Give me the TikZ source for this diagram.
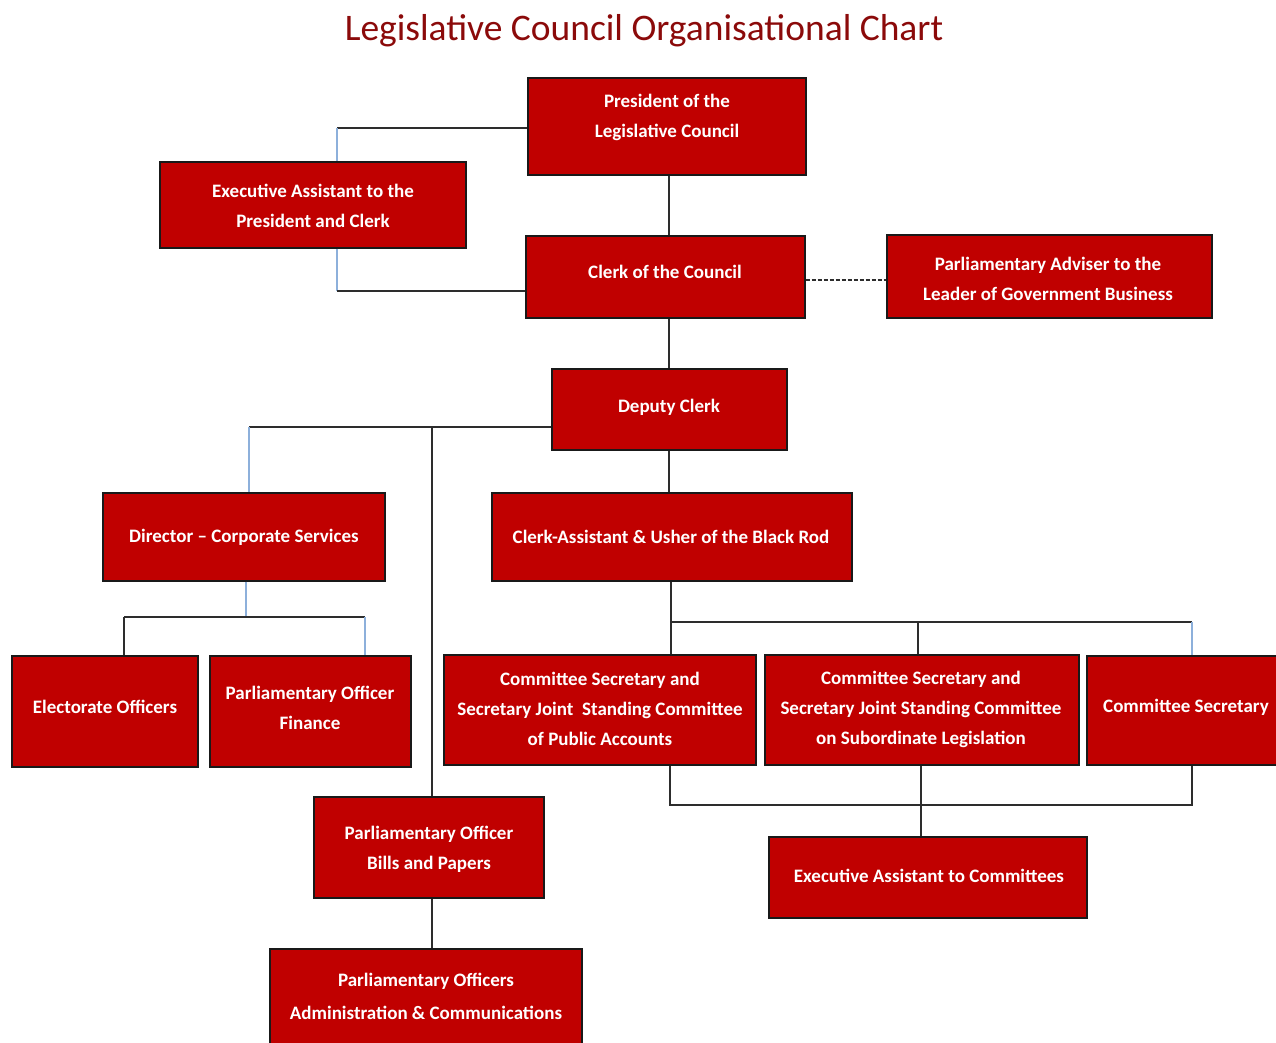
\documentclass[tikz,border=0pt]{standalone}
\usepackage{fontspec}
\setmainfont{Carlito}
\definecolor{boxred}{RGB}{192,0,0}
\definecolor{titlered}{RGB}{139,10,10}
\definecolor{lblue}{RGB}{141,176,219}
\definecolor{conndark}{RGB}{45,45,45}
\begin{document}
\begin{tikzpicture}[x=1bp,y=-1bp,
  box/.style={draw=black!90, line width=1.4bp, fill=boxred, inner sep=0pt, rectangle},
  txt/.style={text=white, font=\bfseries\fontsize{19bp}{30bp}\selectfont, align=center, inner sep=0pt},
  conn/.style={draw=conndark, line width=1.1bp},
  bconn/.style={draw=lblue, line width=1.1bp},
  dconn/.style={draw=conndark, line width=1.1bp, dash pattern=on 4bp off 2bp}]
\useasboundingbox (0,0) rectangle (1276,1043);

% title
\node[text=titlered, font=\fontsize{37.5bp}{40bp}\selectfont, inner sep=0pt] (title) at (644,31) {Legislative Council Organisational Chart};

% junction coordinates
\coordinate (spine) at (669,0);
\coordinate (a1) at (337,128);
\coordinate (a2) at (337,291);
\coordinate (a3) at (249,427);
\coordinate (a4) at (432,427);
\coordinate (a5) at (246,617);
\coordinate (a6) at (124,617);
\coordinate (a7) at (365,617);
\coordinate (b1) at (671,622);
\coordinate (b2) at (918,622);
\coordinate (b3) at (1192,622);
\coordinate (c1) at (670,805);
\coordinate (c2) at (921,805);
\coordinate (c3) at (1192,805);

% boxes
\node[box, minimum width=278bp, minimum height=97bp] (pres) at (667,126.5) {};
\node[box, minimum width=306bp, minimum height=86bp] (exa) at (313,205) {};
\node[box, minimum width=279bp, minimum height=82bp] (clerk) at (665.5,277) {};
\node[box, minimum width=325bp, minimum height=83bp] (adv) at (1049.5,276.5) {};
\node[box, minimum width=235bp, minimum height=81bp] (dep) at (669.5,409.5) {};
\node[box, minimum width=282bp, minimum height=88bp] (dir) at (244,537) {};
\node[box, minimum width=360bp, minimum height=88bp] (ca) at (672,537) {};
\node[box, minimum width=186bp, minimum height=111bp] (elec) at (105,711.5) {};
\node[box, minimum width=201bp, minimum height=111bp] (fin) at (310.5,711.5) {};
\node[box, minimum width=312bp, minimum height=110bp] (cs1) at (600,710) {};
\node[box, minimum width=314bp, minimum height=110bp] (cs2) at (922,710) {};
\node[box, minimum width=193bp, minimum height=109bp] (cs3) at (1183.5,710.5) {};
\node[box, minimum width=230bp, minimum height=101bp] (bills) at (429,847.5) {};
\node[box, minimum width=312bp, minimum height=99bp] (adm) at (426,998.5) {};
\node[box, minimum width=318bp, minimum height=81bp] (eac) at (928,877.5) {};

% texts
\node[txt] (pres-t) at (667,117) {President of the\\Legislative Council};
\node[txt] (exa-t) at (313,206) {Executive Assistant to the\\President and Clerk};
\node[txt] (clerk-t) at (665,272) {Clerk of the Council};
\node[txt] (adv-t) at (1048,279) {Parliamentary Adviser to the\\Leader of Government Business};
\node[txt] (dep-t) at (669,407) {Deputy Clerk};
\node[txt] (dir-t) at (244,537) {Director -- Corporate Services};
\node[txt] (ca-t) at (671,537) {Clerk-Assistant \& Usher of the Black Rod};
\node[txt] (elec-t) at (105,707) {Electorate Officers};
\node[txt] (fin-t) at (310,708) {Parliamentary Officer\\Finance};
\node[txt] (cs1-t) at (600,709) {Committee Secretary and\\Secretary Joint\ \ Standing Committee\\of Public Accounts};
\node[txt] (cs2-t) at (921,709) {Committee Secretary and\\Secretary Joint Standing Committee\\on Subordinate Legislation};
\node[txt] (cs3-t) at (1186,707) {Committee Secretary};
\node[txt] (bills-t) at (429,849) {Parliamentary Officer\\Bills and Papers};
\node[txt, font=\bfseries\fontsize{19bp}{33bp}\selectfont] (adm-t) at (426,996) {Parliamentary Officers\\Administration \& Communications};
\node[txt] (eac-t) at (929,876) {Executive Assistant to Committees};

% connectors
\draw[conn] (pres.west |- a1) -- (a1);
\draw[bconn] (a1) -- (a1 |- exa.north);
\draw[bconn] (a2 |- exa.south) -- (a2);
\draw[conn] (a2) -- (a2 -| clerk.west);
\draw[conn] (spine |- pres.south) -- (spine |- clerk.north);
\draw[dconn] (clerk.east |- 0,280) -- (adv.west |- 0,280);
\draw[conn] (spine |- clerk.south) -- (spine |- dep.north);
\draw[conn] (dep.west |- a3) -- (a3);
\draw[bconn] (a3) -- (a3 |- dir.north);
\draw[conn] (a4) -- (a4 |- bills.north);
\draw[conn] (spine |- dep.south) -- (spine |- ca.north);
\draw[bconn] (a5 |- dir.south) -- (a5);
\draw[conn] (a6) -- (a7);
\draw[conn] (a6) -- (a6 |- elec.north);
\draw[bconn] (a7) -- (a7 |- fin.north);
\draw[conn] (b1 |- ca.south) -- (b1) -- (b3);
\draw[conn] (b1) -- (b1 |- cs1.north);
\draw[conn] (b2) -- (b2 |- cs2.north);
\draw[bconn] (b3) -- (b3 |- cs3.north);
\draw[conn] (c1 |- cs1.south) -- (c1) -- (c3) -- (c3 |- cs3.south);
\draw[conn] (c2 |- cs2.south) -- (c2 |- eac.north);
\draw[conn] (a4 |- bills.south) -- (a4 |- adm.north);
\end{tikzpicture}
\end{document}
